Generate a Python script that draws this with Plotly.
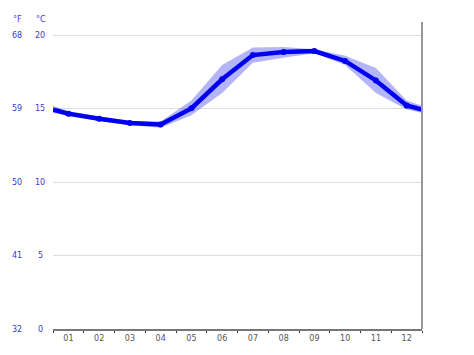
import plotly.graph_objects as go

months = ["01", "02", "03", "04", "05", "06", "07", "08", "09", "10", "11", "12"]
temp_c = [14.66, 14.32, 14.03, 13.92, 15.02, 17.0, 18.65, 18.86, 18.92, 18.25, 16.92, 15.22]
upper_c = [14.83, 14.46, 14.16, 14.12, 15.56, 17.98, 19.17, 19.2, 19.04, 18.6, 17.76, 15.56]
lower_c = [14.48, 14.16, 13.87, 13.70, 14.55, 16.07, 18.13, 18.47, 18.77, 17.98, 16.07, 14.95]
c_ticks = [0, 5, 10, 15, 20]

# positions: month centers, plus wrap-around edges (mean of Dec and Jan)
xc = [i + 0.5 for i in range(len(months))]
def wrap(v):
    e = (v[0] + v[-1]) / 2
    return [e] + list(v) + [e]
xw = [0] + xc + [len(months)]

BLUE = "#0000f0"
LAB = "#3a3ad0"
FONT = "DejaVu Sans"

fig = go.Figure()
fig.add_trace(go.Scatter(x=xw, y=wrap(lower_c), mode="lines", line=dict(width=0),
                         hoverinfo="skip", showlegend=False))
fig.add_trace(go.Scatter(x=xw, y=wrap(upper_c), mode="lines", line=dict(width=0),
                         fill="tonexty", fillcolor="rgba(40,40,235,0.35)",
                         hoverinfo="skip", showlegend=False))
fig.add_trace(go.Scatter(x=xw, y=wrap(temp_c), mode="lines", line=dict(color=BLUE, width=4.5),
                         showlegend=False))
fig.add_trace(go.Scatter(x=xc, y=temp_c, mode="markers", marker=dict(color=BLUE, size=6),
                         showlegend=False))

ann = []
for c in c_ticks:
    f = round(c * 9 / 5 + 32)
    ann.append(dict(x=0, y=c, xref="paper", yref="y", text=str(c), showarrow=False,
                    xanchor="center", yanchor="middle", xshift=-13,
                    font=dict(family=FONT, size=8, color=LAB)))
    ann.append(dict(x=0, y=c, xref="paper", yref="y", text=str(f), showarrow=False,
                    xanchor="center", yanchor="middle", xshift=-36,
                    font=dict(family=FONT, size=8, color=LAB)))
ann.append(dict(x=0, y=1, xref="paper", yref="paper", text="°C", showarrow=False,
                xanchor="center", yanchor="middle", xshift=-12, yshift=3,
                font=dict(family=FONT, size=8, color=LAB)))
ann.append(dict(x=0, y=1, xref="paper", yref="paper", text="°F", showarrow=False,
                xanchor="center", yanchor="middle", xshift=-36, yshift=3,
                font=dict(family=FONT, size=8, color=LAB)))

fig.update_layout(
    width=474, height=355,
    margin=dict(l=53, r=52, t=22, b=23),
    paper_bgcolor="white", plot_bgcolor="white",
    annotations=ann,
    shapes=[dict(type="line", xref="paper", yref="paper", x0=1, x1=1, y0=0, y1=1,
                 line=dict(color="#999999", width=2))],
    xaxis=dict(range=[0, 12], tickvals=xc, ticktext=months, ticks="", showgrid=False,
               zeroline=False, showline=True, linecolor="#777777", linewidth=2,
               tickfont=dict(family=FONT, size=8, color="#555555"),
               minor=dict(tickvals=list(range(13)), ticks="outside", ticklen=2,
                          tickcolor="#333333", tickwidth=1, showgrid=False)),
    yaxis=dict(range=[0, 20.9], tickvals=c_ticks, showticklabels=False, ticks="",
               showgrid=True, gridcolor="#dddddd", gridwidth=1, zeroline=False),
)

fig.write_html("out.html")
